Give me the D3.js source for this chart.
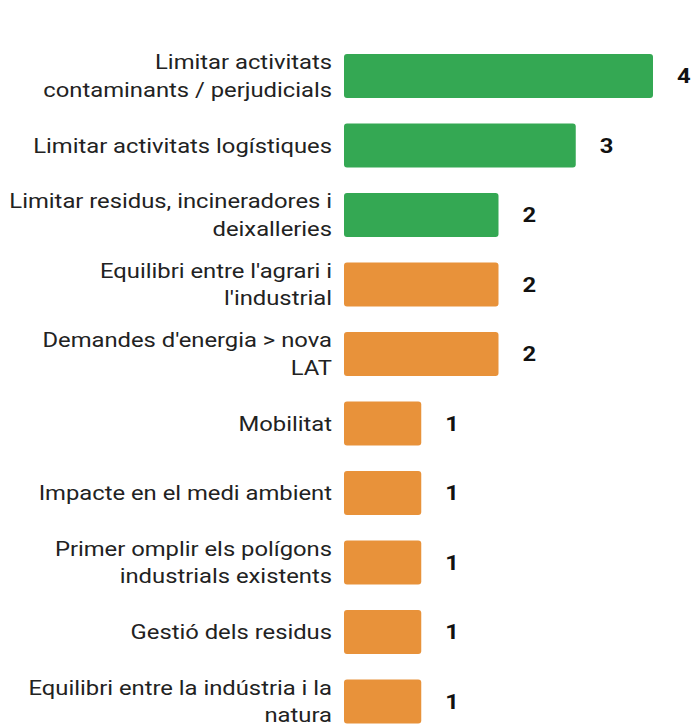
<!DOCTYPE html>
<html><head><meta charset="utf-8">
<script src="https://cdn.jsdelivr.net/npm/d3@7"></script>
<style>body{margin:0;background:#fff}svg{display:block}</style>
</head><body>
<script>
const categories = [
  "Limitar activitats\ncontaminants / perjudicials",
  "Limitar activitats logístiques",
  "Limitar residus, incineradores i\ndeixalleries",
  "Equilibri entre l'agrari i\nl'industrial",
  "Demandes d'energia > nova\nLAT",
  "Mobilitat",
  "Impacte en el medi ambient",
  "Primer omplir els polígons\nindustrials existents",
  "Gestió dels residus",
  "Equilibri entre la indústria i la\nnatura"
];
const values = [4, 3, 2, 2, 2, 1, 1, 1, 1, 1];
const groups = ["green", "green", "green", "orange", "orange", "orange", "orange", "orange", "orange", "orange"];
const colors = {green: "#34a853", orange: "#e8923a"};

const W = 692, H = 724;
const sx = 1.19;
const svg = d3.select("body").append("svg").attr("width", W).attr("height", H);

const x = d3.scaleLinear().domain([0, 4]).range([344, 653]);
const y = d3.scaleBand().domain(categories).range([41.25, 736.25]).paddingInner(0.367).paddingOuter(0.1835);

svg.selectAll("rect.bar").data(categories).join("rect")
  .attr("class", "bar")
  .attr("x", x(0))
  .attr("y", d => y(d))
  .attr("width", (d, i) => x(values[i]) - x(0))
  .attr("height", y.bandwidth())
  .attr("rx", 3)
  .attr("fill", (d, i) => colors[groups[i]]);

svg.selectAll("text.val").data(categories).join("text")
  .attr("class", "val")
  .attr("transform", (d, i) => `translate(${x(values[i]) + 24},${y(d) + y.bandwidth() / 2}) scale(${sx},1)`)
  .attr("dy", "0.35em")
  .attr("font-family", "Roboto")
  .attr("font-weight", "bold")
  .attr("font-size", 20)
  .attr("fill", "#111")
  .text((d, i) => values[i]);

const lh = 28;
const lab = svg.selectAll("text.lab").data(categories).join("text")
  .attr("class", "lab")
  .attr("text-anchor", "end")
  .attr("font-family", "Roboto")
  .attr("font-size", 20)
  .attr("fill", "#222")
  .attr("transform", d => `translate(332,${y(d) + y.bandwidth() / 2}) scale(${sx},1)`);
lab.each(function(d) {
  const lines = d.split("\n");
  const t = d3.select(this);
  lines.forEach((ln, k) => {
    t.append("tspan")
      .attr("x", 0)
      .attr("y", (k - (lines.length - 1) / 2) * lh)
      .attr("dy", "0.35em")
      .text(ln);
  });
});
</script>
</body></html>
